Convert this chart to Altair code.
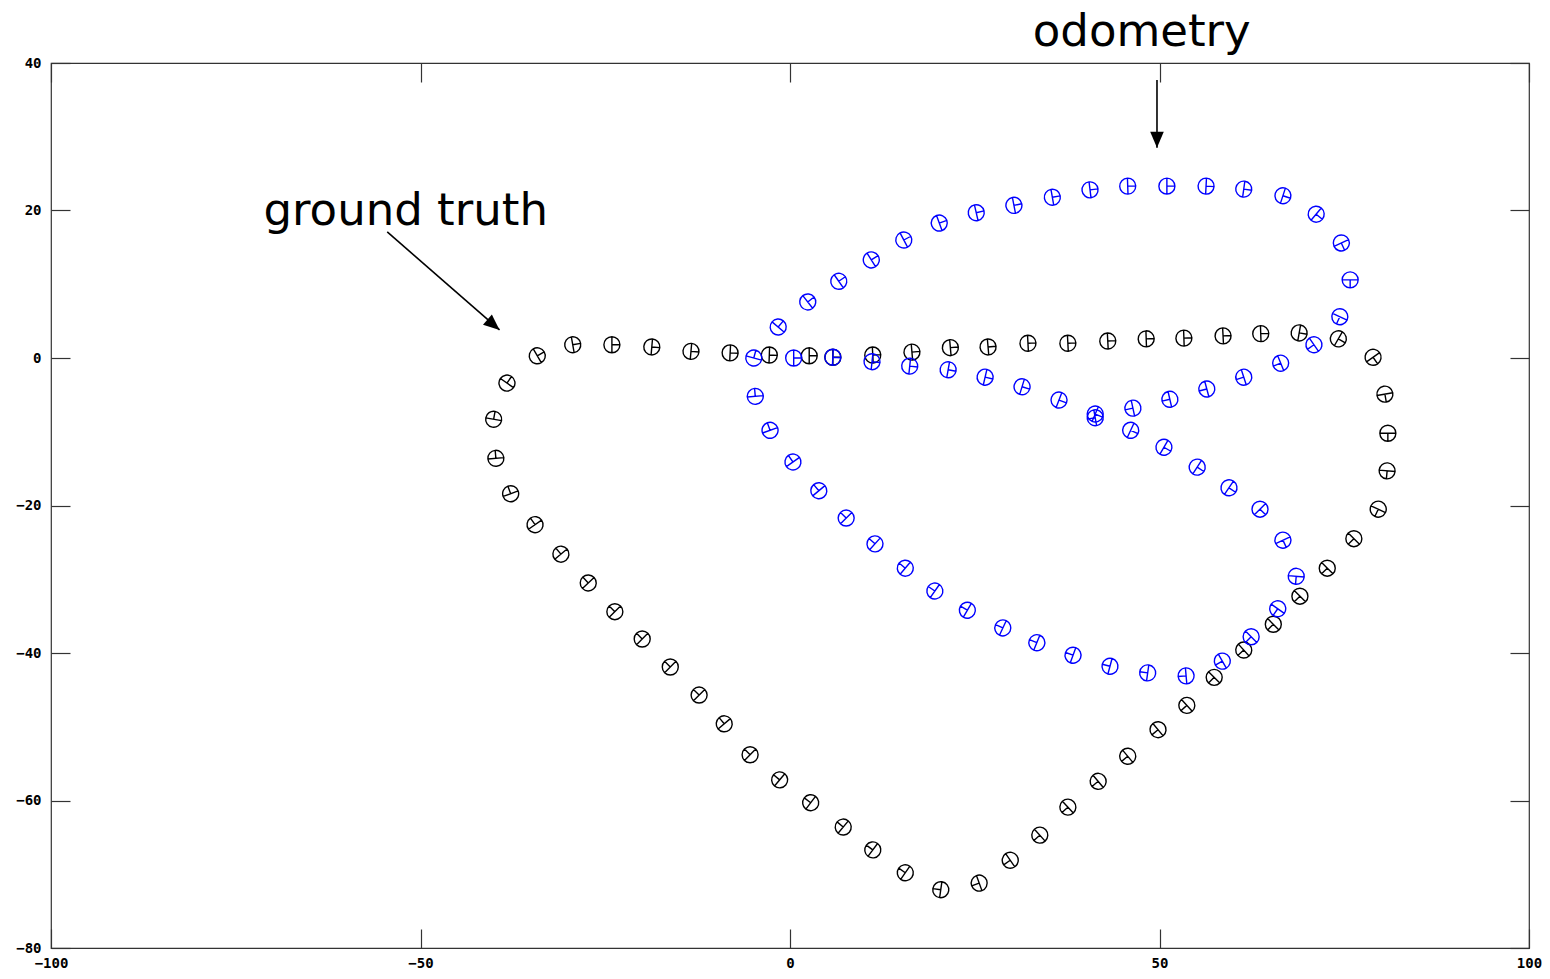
import altair as alt
import pandas as pd

# ---------------- data ----------------
# ground truth poses (x, y, heading in degrees, counter-clockwise from +x)
gt_x = [-34.2, -29.4, -24.1, -18.7, -13.4, -8.1, -2.8, 2.6, 5.8, 11.2, 16.5, 21.7,
        26.8, 32.2, 37.6, 43.0, 48.2, 53.3, 58.6, 63.7, 68.9, 74.2, 78.9, 80.5,
        80.9, 80.8, 79.6, 76.3, 72.7, 69.0, 65.4, 61.4, 57.4, 53.7, 49.8, 45.7,
        41.7, 37.6, 33.8, 29.8, 25.6, 20.4, 15.6, 11.2, 7.2, 2.8, -1.4, -5.4,
        -8.9, -12.3, -16.2, -20.0, -23.7, -27.3, -31.0, -34.5, -37.8, -39.8, -40.1, -38.3]
gt_y = [0.3, 1.8, 1.8, 1.5, 0.9, 0.7, 0.4, 0.3, 0.1, 0.4, 0.8, 1.4,
        1.5, 2.0, 2.0, 2.3, 2.6, 2.7, 3.0, 3.3, 3.4, 2.6, 0.1, -4.9,
        -10.2, -15.3, -20.5, -24.5, -28.5, -32.3, -36.1, -39.6, -43.3, -47.1, -50.4, -54.0,
        -57.4, -60.9, -64.7, -68.1, -71.2, -72.1, -69.8, -66.7, -63.6, -60.3, -57.2, -53.8,
        -49.6, -45.7, -41.9, -38.1, -34.4, -30.5, -26.6, -22.6, -18.4, -13.6, -8.3, -3.4]
gt_heading = [30, 10, 0, -5, -5, -3, -2, 0, 0, 3, 5, 5,
              5, 3, 3, 3, 2, 2, 3, 2, -10, -30, -55, -80,
              -90, -95, -115, -135, -135, -135, -135, -138, -135, -138, -140, -140,
              -140, -137, -138, -145, -160, 172, 145, 143, 140, 143, 140, 135,
              130, 135, 135, 135, 135, 133, 130, 125, 110, 95, 80, 55]

# odometry poses
od_x = [0.5, 5.8, 11.1, 16.2, 21.4, 26.4, 31.4, 36.4, 41.3, 46.1, 50.6, 55.1,
        59.4, 63.6, 66.7, 68.5, 66.0, 62.4, 58.5, 53.6, 48.4, 43.3, 38.3, 33.4,
        28.8, 24.0, 19.6, 15.6, 11.5, 7.6, 3.9, 0.4, -2.7, -4.7, -4.9, -1.6,
        2.4, 6.6, 11.0, 15.4, 20.2, 25.2, 30.3, 35.5, 40.6, 45.7, 51.0, 56.3,
        61.4, 66.7, 71.2, 74.6, 75.8, 74.4, 70.9, 66.4, 61.4, 56.4, 51.4, 46.4, 41.3]
od_y = [0.0, 0.1, -0.5, -1.1, -1.6, -2.6, -3.9, -5.7, -7.6, -9.8, -12.1, -14.8,
        -17.6, -20.5, -24.7, -29.6, -34.0, -37.8, -41.1, -43.1, -42.7, -41.8, -40.3, -38.6,
        -36.6, -34.2, -31.6, -28.5, -25.2, -21.7, -18.0, -14.1, -9.8, -5.2, 0.0, 4.2,
        7.6, 10.4, 13.3, 16.0, 18.3, 19.7, 20.7, 21.8, 22.8, 23.3, 23.3, 23.3,
        22.9, 22.0, 19.5, 15.6, 10.6, 5.6, 1.8, -0.7, -2.6, -4.2, -5.6, -6.8, -8.1]
od_heading = [0, -3, -6, -6, -10, -13, -17, -21, -23, -25, -30, -33,
              -34, -45, -65, -95, -125, -135, -150, -175, 172, 165, 160, 158,
              155, 150, 145, 140, 138, 135, 130, 125, 110, 95, 75, 50,
              38, 35, 32, 28, 20, 13, 11, 10, 7, 2, 0, -3,
              -8, -18, -40, -65, -90, -115, -145, -158, -162, -165, -167, -168, -170]

x_ticks = [-100, -50, 0, 50, 100]
y_ticks = [-80, -60, -40, -20, 0, 20, 40]

label_text = ["ground truth", "odometry"]
label_x = [-52.0, 47.6]
label_y = [18.0, 42.3]

arrow_x1 = [-54.5, 49.66]
arrow_y1 = [17.1, 37.7]
arrow_x2 = [-39.3, 49.66]
arrow_y2 = [3.8, 28.5]
arrow_dir = [40.6, 90]   # screen direction of the arrow head, degrees clockwise

# ---------------- tables ----------------
gt = pd.DataFrame({"x": gt_x, "y": gt_y, "rot": [(-h) % 360 for h in gt_heading]})
od = pd.DataFrame({"x": od_x, "y": od_y, "rot": [(-h) % 360 for h in od_heading]})
labels = pd.DataFrame({"label": label_text, "x": label_x, "y": label_y})
arrows = pd.DataFrame({"x1": arrow_x1, "y1": arrow_y1, "x2": arrow_x2, "y2": arrow_y2,
                       "dir": arrow_dir})

GLYPH = "M-1,0A1,1,0,1,0,1,0A1,1,0,1,0,-1,0M0,-1L0,1M0,0L1,0"
HEAD = "M0,0L-2,-0.85L-2,0.85Z"

xscale = alt.Scale(domain=[-100, 100], nice=False, zero=False)
yscale = alt.Scale(domain=[-80, 40], nice=False, zero=False)

common = dict(domain=False, grid=False, ticks=True, tickSize=19, offset=-19,
              tickColor="#333333", tickWidth=1.2, title=None,
              labelFont="DejaVu Sans Mono", labelFontWeight="bold", labelFontSize=14,
              labelColor="black", labelFlush=False, labelOverlap=False, labelBound=False,
              format="d")

ax_bottom = alt.Axis(orient="bottom", values=x_ticks, labelPadding=8, **common)
ax_left = alt.Axis(orient="left", values=y_ticks, labelPadding=10, **common)
ax_top = alt.Axis(orient="top", values=x_ticks, labels=False, **common)
ax_right = alt.Axis(orient="right", values=y_ticks, labels=False, **common)

gt_layer = alt.Chart(gt).mark_point(
    shape=GLYPH, filled=False, size=256, color="black", strokeWidth=1.4, opacity=1
).encode(
    x=alt.X("x:Q", scale=xscale, axis=ax_bottom),
    y=alt.Y("y:Q", scale=yscale, axis=ax_left),
    angle=alt.Angle("rot:Q", scale=None),
)

od_layer = alt.Chart(od).mark_point(
    shape=GLYPH, filled=False, size=256, color="#0000ff", strokeWidth=1.4, opacity=1
).encode(
    x=alt.X("x:Q", scale=xscale, axis=ax_top),
    y=alt.Y("y:Q", scale=yscale, axis=ax_right),
    angle=alt.Angle("rot:Q", scale=None),
)

arrow_lines = alt.Chart(arrows).mark_rule(color="black", strokeWidth=1.6).encode(
    x=alt.X("x1:Q", scale=xscale, axis=None),
    y=alt.Y("y1:Q", scale=yscale, axis=None),
    x2="x2:Q",
    y2="y2:Q",
)

arrow_heads = alt.Chart(arrows).mark_point(
    shape=HEAD, filled=True, size=256, color="black", opacity=1
).encode(
    x=alt.X("x2:Q", scale=xscale, axis=None),
    y=alt.Y("y2:Q", scale=yscale, axis=None),
    angle=alt.Angle("dir:Q", scale=None),
)

texts = alt.Chart(labels).mark_text(
    font="DejaVu Sans", fontSize=45, color="black", align="center", baseline="alphabetic"
).encode(
    x=alt.X("x:Q", scale=xscale, axis=None),
    y=alt.Y("y:Q", scale=yscale, axis=None),
    text="label:N",
)

chart = alt.layer(gt_layer, od_layer, arrow_lines, arrow_heads, texts).resolve_axis(
    x="independent", y="independent"
).properties(
    width=1478, height=885,
    autosize=alt.AutoSizeParams(type="none"),
    padding={"left": 43, "top": 55, "right": 13, "bottom": 25},
    background="white",
).configure_view(stroke="#333333", strokeWidth=1.2)

chart.save("out.html", embed_options={"renderer": "svg", "actions": False})
